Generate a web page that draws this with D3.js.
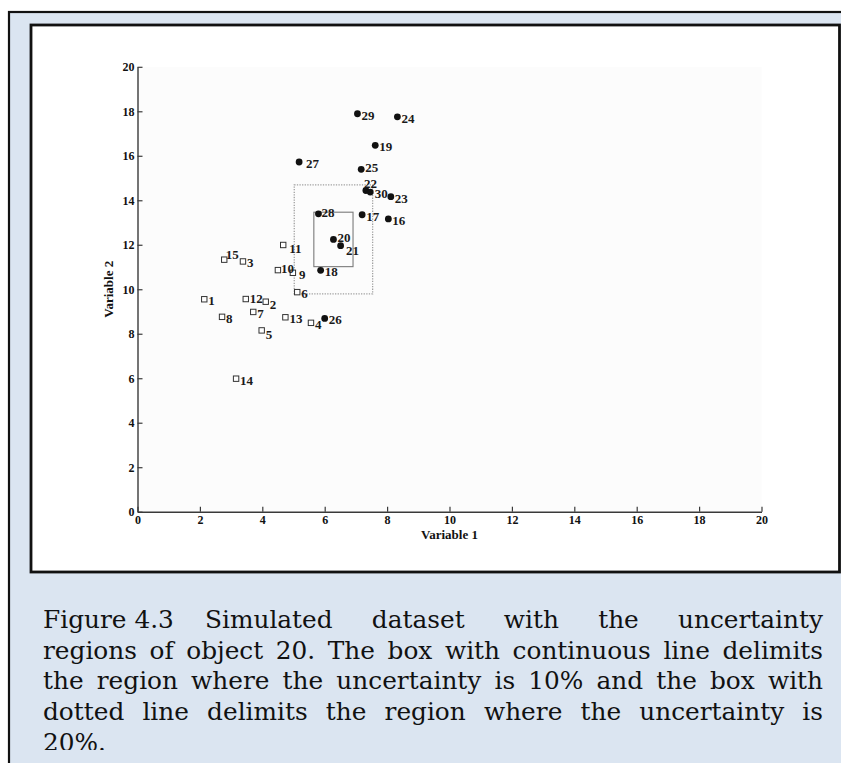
<!DOCTYPE html>
<html>
<head>
<meta charset="utf-8">
<script src="https://cdn.jsdelivr.net/npm/d3@7"></script>
<style>
  html, body { margin: 0; padding: 0; background: #ffffff; }
  svg { display: block; }
</style>
</head>
<body>
<svg id="fig" width="841" height="763"></svg>
<script>
// Simulated dataset: objects 1-15 (open squares) and 16-30 (filled dots)
const squareIds = [1, 2, 3, 4, 5, 6, 7, 8, 9, 10, 11, 12, 13, 14, 15];
const squareVar1 = [2.14, 4.11, 3.38, 5.56, 3.98, 5.12, 3.71, 2.71, 4.98, 4.50, 4.67, 3.47, 4.74, 3.16, 2.78];
const squareVar2 = [9.55, 9.44, 11.25, 8.49, 8.15, 9.87, 8.98, 8.76, 10.74, 10.86, 11.99, 9.56, 8.74, 5.98, 11.33];

const dotIds = [16, 17, 18, 19, 20, 21, 22, 23, 24, 25, 26, 27, 28, 29, 30];
const dotVar1 = [8.04, 7.20, 5.87, 7.62, 6.28, 6.51, 7.32, 8.12, 8.33, 7.17, 6.00, 5.18, 5.80, 7.05, 7.46];
const dotVar2 = [13.16, 13.35, 10.85, 16.47, 12.24, 11.96, 14.44, 14.16, 17.75, 15.39, 8.69, 15.72, 13.39, 17.89, 14.37];

// Uncertainty regions around the reference object
const referenceId = 20;
const uncertaintyLevels = [0.10, 0.20];   // continuous box, dotted box

const axisTicks = [0, 2, 4, 6, 8, 10, 12, 14, 16, 18, 20];
const xTitle = "Variable 1";
const yTitle = "Variable 2";

const captionLines = [
  ["Figure 4.3", "Simulated dataset with the uncertainty"],
  ["regions of object 20. The box with continuous line delimits"],
  ["the region where the uncertainty is 10% and the box with"],
  ["dotted line delimits the region where the uncertainty is"],
  ["20%."]
];

// Label nudges (px) for crowded points; default sits just right of the marker
const labelNudge = {
  9: [2, 0], 11: [2, 2], 15: [-2.5, -7], 22: [-6, -9], 21: [1.5, 3],
  27: [3, 0], 2: [0, 1.5], 5: [0, 2.5], 12: [0, -2.5], 10: [-1, -3], 28: [-1, -2.5],
  20: [0, -3], 30: [0.5, 0], 25: [0, -3]
};

const svg = d3.select("#fig");

// ---- page frame ----
svg.append("rect")
  .attr("x", 9).attr("y", 12).attr("width", 845).attr("height", 770)
  .attr("fill", "#dbe5f1").attr("stroke", "#111").attr("stroke-width", 2.2);

svg.append("rect")
  .attr("x", 31).attr("y", 25).attr("width", 808.5).attr("height", 547)
  .attr("fill", "#ffffff").attr("stroke", "#111").attr("stroke-width", 2.8);

// ---- plot ----
const plot = { left: 137.5, right: 761.5, top: 66.8, bottom: 511.7 };
const x = d3.scaleLinear().domain([0, 20]).range([plot.left, plot.right]);
const y = d3.scaleLinear().domain([0, 20]).range([plot.bottom, plot.top]);

svg.append("rect")
  .attr("x", plot.left).attr("y", plot.top)
  .attr("width", plot.right - plot.left).attr("height", plot.bottom - plot.top)
  .attr("fill", "#fcfcfc");

const serif = "'Liberation Serif', 'Times New Roman', serif";

const xAxis = svg.append("g")
  .attr("transform", `translate(0,${plot.bottom})`)
  .call(d3.axisBottom(x).tickValues(axisTicks).tickFormat(d3.format("d"))
    .tickSizeInner(-5).tickSizeOuter(0).tickPadding(3.5));

const yAxis = svg.append("g")
  .attr("transform", `translate(${plot.left},0)`)
  .call(d3.axisLeft(y).tickValues(axisTicks).tickFormat(d3.format("d"))
    .tickSizeInner(-5).tickSizeOuter(0).tickPadding(3));

[xAxis, yAxis].forEach(g => {
  g.select(".domain").attr("stroke", "#3a3a3a").attr("stroke-width", 1.4);
  g.selectAll(".tick line").attr("stroke", "#3a3a3a").attr("stroke-width", 1.2);
  g.selectAll(".tick text")
    .attr("fill", "#111")
    .style("font-family", serif).style("font-size", "12px").style("font-weight", "bold");
});

svg.append("text")
  .attr("x", (plot.left + plot.right) / 2).attr("y", 539)
  .attr("text-anchor", "middle")
  .style("font-family", serif).style("font-size", "13px").style("font-weight", "bold")
  .attr("fill", "#111")
  .text(xTitle);

svg.append("text")
  .attr("transform", `translate(113,${(plot.top + plot.bottom) / 2}) rotate(-90)`)
  .attr("text-anchor", "middle")
  .style("font-family", serif).style("font-size", "13px").style("font-weight", "bold")
  .attr("fill", "#111")
  .text(yTitle);

// ---- uncertainty boxes around the reference object ----
const refIndex = dotIds.indexOf(referenceId);
const refX = dotVar1[refIndex], refY = dotVar2[refIndex];

svg.append("g").selectAll("rect")
  .data(uncertaintyLevels)
  .join("rect")
  .attr("x", d => x(refX * (1 - d)))
  .attr("y", d => y(refY * (1 + d)))
  .attr("width", d => x(refX * (1 + d)) - x(refX * (1 - d)))
  .attr("height", d => y(refY * (1 - d)) - y(refY * (1 + d)))
  .attr("fill", "none")
  .attr("stroke", (d, i) => i === 0 ? "#7a7a7a" : "#a0a0a0")
  .attr("stroke-width", (d, i) => i === 0 ? 1.1 : 1.3)
  .attr("stroke-dasharray", (d, i) => i === 0 ? null : "1.3,1.3");

// ---- markers ----
const squares = squareIds.map((id, i) => ({ id, v1: squareVar1[i], v2: squareVar2[i] }));
const dots = dotIds.map((id, i) => ({ id, v1: dotVar1[i], v2: dotVar2[i] }));

svg.append("g").selectAll("rect")
  .data(squares)
  .join("rect")
  .attr("x", d => x(d.v1) - 2.7).attr("y", d => y(d.v2) - 2.7)
  .attr("width", 5.4).attr("height", 5.4)
  .attr("fill", "#ffffff").attr("stroke", "#333").attr("stroke-width", 1);

svg.append("g").selectAll("circle")
  .data(dots)
  .join("circle")
  .attr("cx", d => x(d.v1)).attr("cy", d => y(d.v2))
  .attr("r", 3.4)
  .attr("fill", "#111");

// ---- point labels ----
svg.append("g").selectAll("text")
  .data(squares.concat(dots))
  .join("text")
  .attr("x", d => x(d.v1) + 4 + (labelNudge[d.id] ? labelNudge[d.id][0] : 0))
  .attr("y", d => y(d.v2) + 1.5 + (labelNudge[d.id] ? labelNudge[d.id][1] : 0))
  .attr("dy", "0.35em")
  .style("font-family", serif).style("font-size", "13px").style("font-weight", "bold")
  .attr("fill", "#1a1a1a")
  .text(d => d.id);

// ---- caption, justified ----
const cap = { left: 43, right: 823, top: 628, pitch: 30.7, size: 24.8 };

const clip = svg.append("clipPath").attr("id", "capclip");
clip.append("rect").attr("x", 0).attr("y", 580).attr("width", 841).attr("height", 170);

const capG = svg.append("g").attr("clip-path", "url(#capclip)")
  .style("font-family", "'DejaVu Serif', serif")
  .style("font-size", cap.size + "px")
  .attr("fill", "#111");

function measure(word) {
  const t = capG.append("text").text(word);
  const w = t.node().getComputedTextLength();
  t.remove();
  return w;
}

function justify(words, x0, x1, baseline, stretch) {
  const widths = words.map(measure);
  const total = d3.sum(widths);
  const gap = (stretch && words.length > 1)
    ? (x1 - x0 - total) / (words.length - 1)
    : measure("a a") - measure("aa");
  let cx = x0;
  words.forEach((w, i) => {
    capG.append("text").attr("x", cx).attr("y", baseline).text(w);
    cx += widths[i] + gap;
  });
}

captionLines.forEach((parts, li) => {
  const baseline = cap.top + li * cap.pitch;
  const last = li === captionLines.length - 1;
  if (parts.length === 2) {
    capG.append("text").attr("x", cap.left).attr("y", baseline).text(parts[0]);
    justify(parts[1].split(" "), 205, cap.right, baseline, true);
  } else {
    justify(parts[0].split(" "), cap.left, cap.right, baseline, !last);
  }
});
</script>
</body>
</html>
